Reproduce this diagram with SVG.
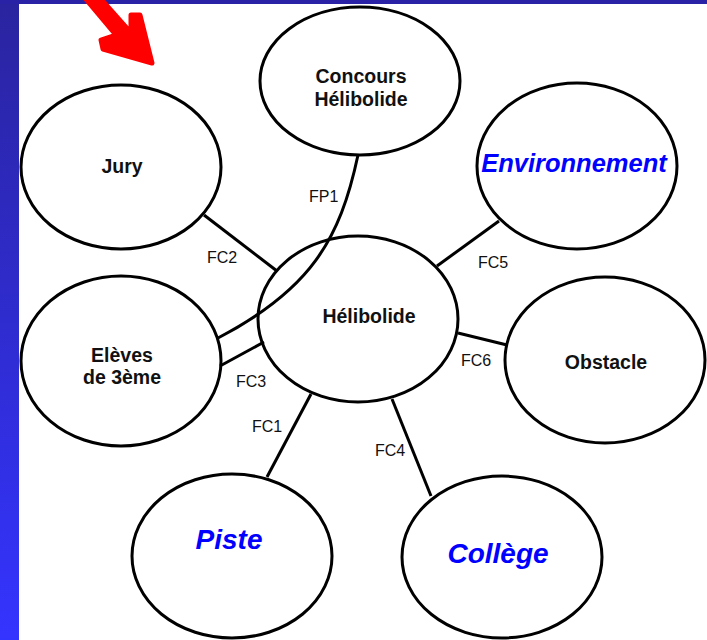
<svg xmlns="http://www.w3.org/2000/svg" width="707" height="640" viewBox="0 0 707 640">
  <defs>
    <linearGradient id="side" x1="0" y1="0" x2="0" y2="1">
      <stop offset="0" stop-color="#2a249f"/>
      <stop offset="1" stop-color="#3434ff"/>
    </linearGradient>
    <style>
      .shape { fill: #fff; stroke: #000; stroke-width: 3; }
      .conn line, .conn path { stroke: #000; stroke-width: 3; fill: none; }
      .name { font-family: "Liberation Sans", Arial, sans-serif; font-weight: bold; font-size: 19.5px; fill: #111; text-anchor: middle; }
      .blue { font-family: "Liberation Sans", Arial, sans-serif; font-weight: bold; font-style: italic; fill: #0000ff; text-anchor: middle; }
      .fc { font-family: "Liberation Sans", Arial, sans-serif; font-size: 16px; fill: #111; }
    </style>
  </defs>

  <!-- background -->
  <rect x="0" y="0" width="707" height="640" fill="#fff"/>
  <rect x="0" y="0" width="19" height="640" fill="url(#side)"/>
  <rect x="0" y="0" width="707" height="4" fill="#2a22a6"/>

  <!-- nodes -->
  <g id="concours">
    <ellipse class="shape" cx="360" cy="81" rx="100" ry="74"/>
    <text class="name" x="361" y="83">Concours</text>
    <text class="name" x="361" y="106">Hélibolide</text>
  </g>
  <g id="jury">
    <ellipse class="shape" cx="121" cy="167" rx="100" ry="82"/>
    <text class="name" x="122" y="173">Jury</text>
  </g>
  <g id="environnement">
    <ellipse class="shape" cx="577" cy="166" rx="100" ry="83"/>
    <text class="blue" x="574" y="172" font-size="25.5">Environnement</text>
  </g>
  <g id="helibolide">
    <ellipse class="shape" cx="358" cy="319" rx="100" ry="83"/>
    <text class="name" x="369" y="323">Hélibolide</text>
  </g>
  <g id="eleves">
    <ellipse class="shape" cx="121" cy="361" rx="100" ry="85"/>
    <text class="name" x="122" y="362">Elèves</text>
    <text class="name" x="122" y="384">de 3ème</text>
  </g>
  <g id="obstacle">
    <ellipse class="shape" cx="605" cy="360" rx="100" ry="83"/>
    <text class="name" x="606" y="369">Obstacle</text>
  </g>
  <g id="piste">
    <ellipse class="shape" cx="232" cy="556" rx="100" ry="82"/>
    <text class="blue" x="229" y="549" font-size="28">Piste</text>
  </g>
  <g id="college">
    <ellipse class="shape" cx="502" cy="557" rx="100" ry="81"/>
    <text class="blue" x="498" y="563" font-size="28">Collège</text>
  </g>

  <!-- connectors -->
  <g id="connectors" class="conn">
    <path d="M358,155 C340,240 310,290 218,338"/>
    <line x1="204" y1="215" x2="277" y2="271"/>
    <line x1="437" y1="266" x2="499" y2="221"/>
    <line x1="458" y1="333" x2="507" y2="345"/>
    <line x1="264" y1="342" x2="220" y2="366"/>
    <line x1="311" y1="394" x2="267" y2="477"/>
    <line x1="392" y1="399" x2="431" y2="496"/>
  </g>

  <g id="connector-labels">
    <text class="fc" x="309" y="202">FP1</text>
    <text class="fc" x="207" y="263">FC2</text>
    <text class="fc" x="478" y="268">FC5</text>
    <text class="fc" x="461" y="366">FC6</text>
    <text class="fc" x="236" y="387">FC3</text>
    <text class="fc" x="252" y="432">FC1</text>
    <text class="fc" x="375" y="456">FC4</text>
  </g>

  <!-- red pointer arrow -->
  <g id="red-arrow">
    <polygon points="152,63 140,15 131,15 131,33 100,-2 85,-2 116,35 101,40 103,49" fill="#ff0000" stroke="#ff0000" stroke-width="5" stroke-linejoin="round"/>
  </g>
</svg>
